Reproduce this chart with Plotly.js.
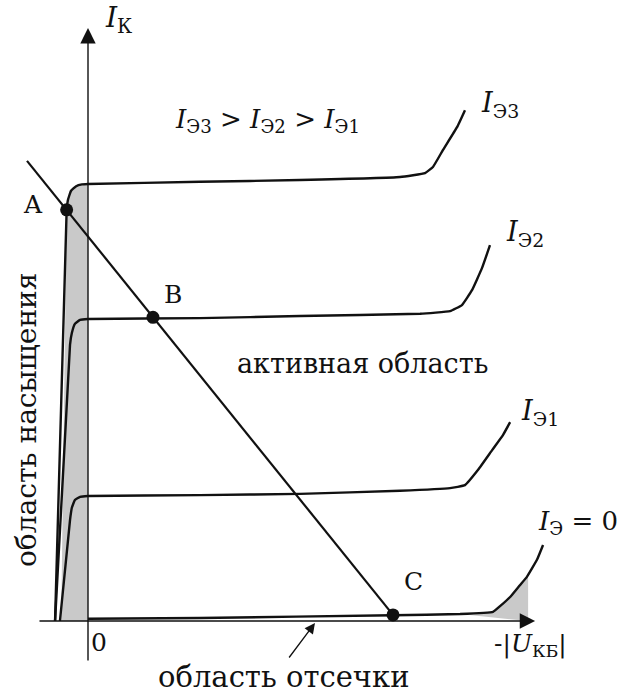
<!DOCTYPE html>
<html>
<head>
<meta charset="utf-8">
<script src="https://cdn.plot.ly/plotly-3.0.1.min.js"></script>
<style>
  html, body { margin: 0; padding: 0; background: #ffffff; }
  #chart { width: 621px; height: 694px; }
</style>
</head>
<body>
<div id="chart"></div>
<script>
// Output characteristics of a transistor in common-base connection:
// collector current I_K versus -|U_KB| for several emitter currents.

// I_E3 curve
const uE3 = [-1.08, -0.70, -0.66, -0.56, -0.39, -0.20, 0, 3.67, 6.95, 10.23, 11.05, 11.31, 11.64, 12.10, 12.36];
const iE3 = [0, 9.41, 9.63, 9.84, 9.95, 9.99, 10.00, 10.05, 10.09, 10.16, 10.25, 10.39, 10.78, 11.30, 11.69];
// I_E2 curve
const uE2 = [-1.08, -0.59, -0.53, -0.43, -0.26, 0, 3.67, 6.95, 10.89, 11.87, 12.26, 12.59, 12.92, 13.18];
const iE2 = [0, 6.32, 6.59, 6.80, 6.89, 6.91, 6.93, 6.98, 7.03, 7.09, 7.23, 7.57, 8.08, 8.60];
// I_E1 curve
const uE1 = [-0.92, -0.59, -0.53, -0.43, -0.26, 0, 3.67, 6.95, 10.23, 11.87, 12.36, 12.79, 13.25, 13.61, 13.84];
const iE1 = [0, 2.31, 2.59, 2.77, 2.84, 2.86, 2.88, 2.91, 2.98, 3.04, 3.11, 3.46, 3.91, 4.26, 4.55];
// I_E = 0 curve
const uE0 = [0, 3.67, 10.00, 12.20, 13.28, 13.51, 13.84, 14.16, 14.39, 14.72, 14.92];
const iE0 = [0.05, 0.07, 0.13, 0.16, 0.21, 0.34, 0.55, 0.82, 1.01, 1.40, 1.74];

// Saturation region boundary
const satU = [-0.88, -0.70, -0.66, -0.56, -0.39, -0.20, 0, 0];
const satI = [0, 9.41, 9.63, 9.84, 9.95, 9.99, 10.00, 0];
// Breakdown region boundary
const brkU = [12.20, 13.28, 13.51, 13.84, 14.16, 14.43, 14.43];
const brkI = [0.16, 0.21, 0.34, 0.55, 0.82, 1.03, 0];

// Load line and operating points
const loadU = [-2.0, 10.0];
const loadI = [10.53, 0.14];
const opNames = ['A', 'B', 'C'];
const opU = [-0.70, 2.13, 10.0];
const opI = [9.41, 6.95, 0.14];

// Axis extents
const uAxis = [-1.64, 14.66];
const iAxis = [-0.94, 13.57];

const W = 621, H = 694;
const px = (x) => x / W;
const py = (y) => 1 - y / H;

const serif = 'DejaVu Serif';
const black = '#111111';
const gray = '#c9c9c9';

const curve = (u, i) => ({
  x: u, y: i, type: 'scatter', mode: 'lines',
  line: { color: black, width: 2.4, shape: 'spline', smoothing: 0.3 },
  hoverinfo: 'skip'
});

const traces = [
  { x: satU, y: satI, type: 'scatter', mode: 'lines', fill: 'toself',
    fillcolor: gray, line: { width: 0 }, hoverinfo: 'skip' },
  { x: brkU, y: brkI, type: 'scatter', mode: 'lines', fill: 'toself',
    fillcolor: gray, line: { width: 0 }, hoverinfo: 'skip' },
  curve(uE3, iE3),
  curve(uE2, iE2),
  curve(uE1, iE1),
  curve(uE0, iE0),
  { x: loadU, y: loadI, type: 'scatter', mode: 'lines',
    line: { color: black, width: 2.2 }, hoverinfo: 'skip' },
  { x: opU, y: opI, text: opNames, type: 'scatter', mode: 'markers',
    marker: { color: black, size: 13 }, hoverinfo: 'skip' }
];

const label = (text, x, y, size, extra) => Object.assign({
  text: text, xref: 'paper', yref: 'paper', x: px(x), y: py(y),
  xanchor: 'center', yanchor: 'middle', showarrow: false,
  font: { family: serif, size: size, color: black }
}, extra || {});

const annotations = [
  // axes with arrowheads
  { xref: 'x', yref: 'y', axref: 'x', ayref: 'y',
    x: uAxis[1], y: 0, ax: uAxis[0], ay: 0, text: '',
    showarrow: true, arrowhead: 2, arrowsize: 2.2, arrowwidth: 1.4, arrowcolor: black },
  { xref: 'x', yref: 'y', axref: 'x', ayref: 'y',
    x: 0, y: iAxis[1], ax: 0, ay: iAxis[0], text: '',
    showarrow: true, arrowhead: 2, arrowsize: 2.2, arrowwidth: 1.4, arrowcolor: black },
  // pointer to the cut-off region
  { xref: 'paper', yref: 'paper', axref: 'pixel', ayref: 'pixel',
    x: px(315), y: py(623), ax: -27, ay: 36, text: '',
    showarrow: true, arrowhead: 2, arrowsize: 1.6, arrowwidth: 1.3, arrowcolor: black },

  label('<i>I</i><sub>К</sub>', 118, 20, 28),
  label('<i>I</i><sub>Э3</sub> &gt; <i>I</i><sub>Э2</sub> &gt; <i>I</i><sub>Э1</sub>', 267, 120, 26),
  label('<i>I</i><sub>Э3</sub>', 500, 105, 27),
  label('<i>I</i><sub>Э2</sub>', 525, 233, 27),
  label('<i>I</i><sub>Э1</sub>', 540, 412, 27),
  label('<i>I</i><sub>Э</sub> = 0', 578, 522, 26),
  label(opNames[0], 33, 204, 25),
  label(opNames[1], 173, 294, 25),
  label(opNames[2], 413, 581, 25),
  label('активная область', 362, 363, 27),
  label('область насыщения', 27, 420, 28, { textangle: -90 }),
  label('0', 99, 642, 25),
  label('-|<i>U</i><sub>КБ</sub>|', 530, 645, 25),
  label('область отсечки', 283, 677, 29)
];

const layout = {
  width: W, height: H,
  margin: { l: 0, r: 0, t: 0, b: 0, pad: 0 },
  paper_bgcolor: '#ffffff', plot_bgcolor: '#ffffff',
  showlegend: false,
  font: { family: serif },
  xaxis: { range: [-88 / 30.5, 533 / 30.5], visible: false, fixedrange: true },
  yaxis: { range: [-73 / 43.7, 621 / 43.7], visible: false, fixedrange: true },
  annotations: annotations
};

Plotly.newPlot('chart', traces, layout, { staticPlot: true });
</script>
</body>
</html>
